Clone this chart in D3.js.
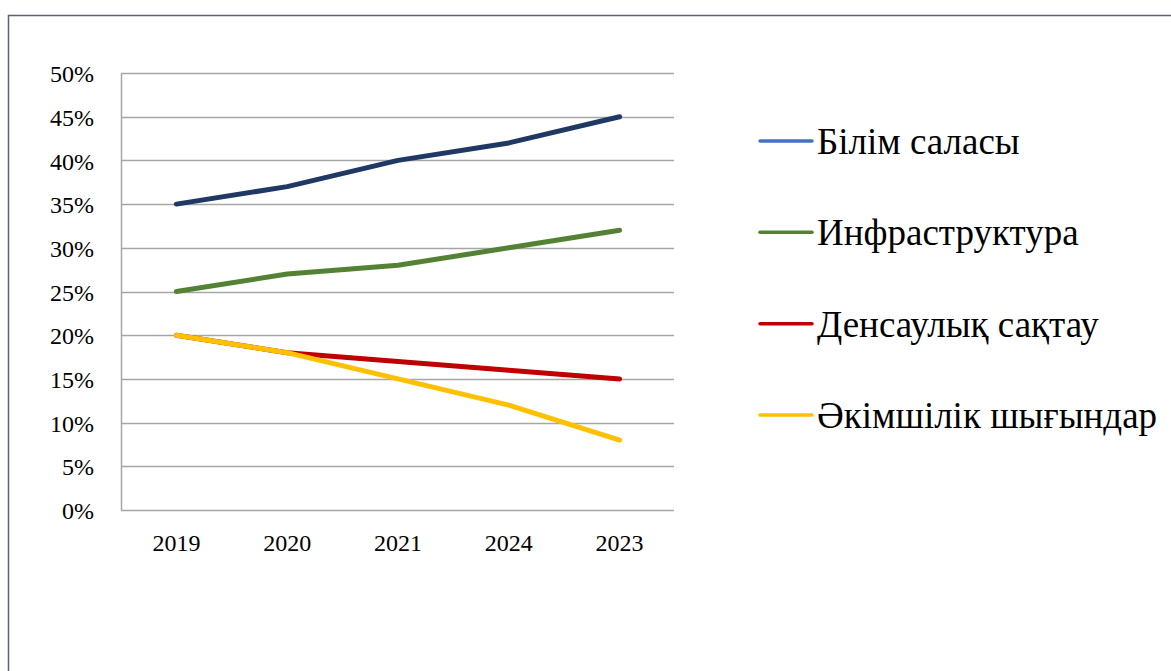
<!DOCTYPE html>
<html lang="kk">
  <head>
    <meta charset="UTF-8" />
    <title>Line chart</title>
    <script src="https://d3js.org/d3.v7.min.js"></script>
    <style>
      body { margin: 0; background: #fff; }
      svg, svg text { font-family: "Liberation Serif", "Times New Roman", serif !important; }
    </style>
  </head>
  <body>
    <svg id="chart" width="1171" height="671"></svg>
    <script>
      // data
      const years = ["2019", "2020", "2021", "2024", "2023"];
      const seriesNames = ["Білім саласы", "Инфраструктура", "Денсаулық сақтау", "Әкімшілік шығындар"];
      const bilim = [0.35, 0.37, 0.40, 0.42, 0.45];
      const infra = [0.25, 0.27, 0.28, 0.30, 0.32];
      const densaulyk = [0.20, 0.18, 0.17, 0.16, 0.15];
      const akimshilik = [0.20, 0.18, 0.15, 0.12, 0.08];
      const yTicks = [0, 0.05, 0.1, 0.15, 0.2, 0.25, 0.3, 0.35, 0.4, 0.45, 0.5];

      const lineColors = ["#203864", "#548235", "#C00000", "#FFC000"];
      const legendColors = ["#4472C4", "#548235", "#C00000", "#FFC000"];

      const series = [bilim, infra, densaulyk, akimshilik].map((vals, i) => ({
        name: seriesNames[i],
        values: vals.map((v, j) => ({ year: years[j], value: v })),
      }));

      const svg = d3.select("#chart").style("display", "block");

      // outer frame
      svg.append("rect")
        .attr("x", 8.5).attr("y", 15.5)
        .attr("width", 1200).attr("height", 700)
        .attr("fill", "none")
        .attr("stroke", "#5b6272")
        .attr("stroke-width", 1.5);

      const plotLeft = 121, plotRight = 675, plotTop = 73, plotBottom = 510;

      const x = d3.scaleBand().domain(years).range([plotLeft, plotRight]);
      const y = d3.scaleLinear().domain([0, 0.5]).range([plotBottom, plotTop]);

      // gridlines
      svg.append("g")
        .selectAll("line")
        .data(yTicks)
        .join("line")
        .attr("x1", plotLeft).attr("x2", plotRight - 1)
        .attr("y1", (d) => Math.round(y(d)) + 0.5)
        .attr("y2", (d) => Math.round(y(d)) + 0.5)
        .attr("stroke", "#a6a6a6")
        .attr("stroke-width", 1.5);

      // left axis line
      svg.append("line")
        .attr("x1", plotLeft + 0.5).attr("x2", plotLeft + 0.5)
        .attr("y1", plotTop).attr("y2", plotBottom)
        .attr("stroke", "#a6a6a6")
        .attr("stroke-width", 1.5);

      // y labels
      const yAxis = svg.append("g")
        .attr("transform", `translate(${plotLeft - 27},0)`)
        .call(d3.axisLeft(y).tickValues(yTicks).tickFormat(d3.format(".0%")).tickSize(0).tickPadding(0));
      yAxis.select(".domain").remove();
      yAxis.selectAll("text")
        .attr("font-size", 24)
        .attr("dy", "0.36em")
        .attr("fill", "#000");

      // x labels
      const xAxis = svg.append("g")
        .attr("transform", `translate(0,${plotBottom + 24})`)
        .call(d3.axisBottom(x).tickSize(0).tickPadding(0));
      xAxis.select(".domain").remove();
      xAxis.selectAll("text")
        .attr("font-size", 24)
        .attr("fill", "#000");

      const line = d3.line()
        .x((d) => x(d.year) + x.bandwidth() / 2)
        .y((d) => y(d.value));

      series.forEach((s, i) => {
        svg.append("path")
          .datum(s.values)
          .attr("fill", "none")
          .attr("stroke", lineColors[i])
          .attr("stroke-width", 5)
          .attr("stroke-linecap", "round")
          .attr("stroke-linejoin", "round")
          .attr("d", line);
      });

      // legend
      const legendY = d3.scalePoint().domain(seriesNames).range([141, 415]);
      const legend = svg.append("g")
        .selectAll("g")
        .data(seriesNames)
        .join("g")
        .attr("transform", (d) => `translate(0,${legendY(d)})`);

      legend.append("line")
        .attr("x1", 760).attr("x2", 812)
        .attr("stroke", (d, i) => legendColors[i])
        .attr("stroke-width", 3.5)
        .attr("stroke-linecap", "round");

      legend.append("text")
        .attr("x", 817)
        .attr("y", 13)
        .attr("font-size", 37)
        .attr("fill", "#000")
        .text((d) => d);
    </script>
  </body>
</html>
